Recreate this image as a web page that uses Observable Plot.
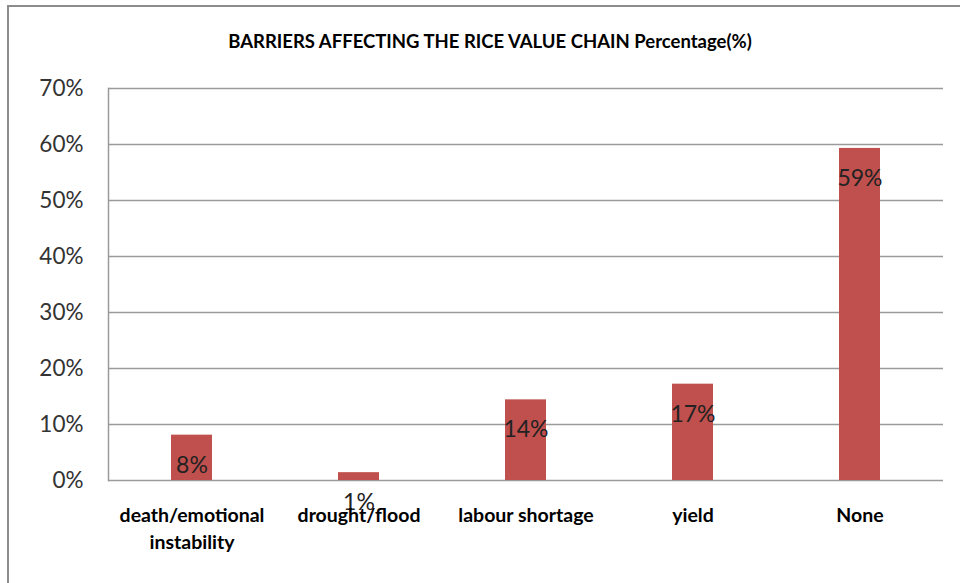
<!DOCTYPE html>
<html>
<head>
<meta charset="utf-8">
<script src="https://cdn.jsdelivr.net/npm/d3@7"></script>
<script src="https://cdn.jsdelivr.net/npm/@observablehq/plot@0.6"></script>
<style>
  html, body { margin: 0; padding: 0; background: #fff; }
  #wrap { position: relative; width: 960px; height: 583px; overflow: hidden; background: #fff; }
  #border { position: absolute; left: 7px; top: 5px; width: 960px; height: 600px;
            border-left: 2px solid #8c8c8c; border-top: 2px solid #8c8c8c; box-sizing: border-box; }
  #title { position: absolute; left: 0; top: 30px; width: 980px; text-align: center;
           font-family: Lato, "Open Sans", sans-serif; font-weight: bold; font-size: 18.5px; color: #000; }
  #chart { position: absolute; left: 0; top: 48px; }
</style>
</head>
<body>
<div id="wrap">
  <div id="border"></div>
  <div id="title">BARRIERS AFFECTING THE RICE VALUE CHAIN Percentage(%)</div>
  <div id="chart"></div>
</div>
<script>
const categories = ["death/emotional\ninstability", "drought/flood", "labour shortage", "yield", "None"];
const values = [8.1, 1.4, 14.4, 17.2, 59.3];
const yTicks = [0, 10, 20, 30, 40, 50, 60, 70];

const data = categories.map((c, i) => ({category: c, value: values[i], label: Math.round(values[i]) + "%"}));

const plot = Plot.plot({
  width: 960,
  height: 535,
  marginLeft: 108,
  marginRight: 17,
  marginTop: 40,
  marginBottom: 103,
  style: {fontFamily: "Lato, 'Open Sans', sans-serif", background: "transparent"},
  x: {domain: categories, padding: 0, label: null},
  y: {domain: [0, 70], label: null},
  marks: [
    Plot.ruleY(yTicks, {stroke: "#9a9a9a", strokeWidth: 1.5}),
    Plot.frame({anchor: "left", stroke: "#9a9a9a", strokeWidth: 1.5}),
    Plot.barY(data, {x: "category", y: "value", fill: "#C0504D", insetLeft: 63, insetRight: 63}),
    Plot.text(data, {x: "category", y: "value", text: "label", dy: 30, fontSize: 23, fill: "#222"}),
    Plot.axisY({ticks: yTicks, tickFormat: d => d + "%", tickSize: 0, tickPadding: 25, fontSize: 22.5, fill: "#333", label: null}),
    Plot.axisX({tickSize: 0, tickPadding: 23, fontSize: 19.5, fontWeight: "bold", fill: "#000", lineHeight: 1.35, label: null})
  ]
});
document.getElementById("chart").appendChild(plot);
</script>
</body>
</html>
